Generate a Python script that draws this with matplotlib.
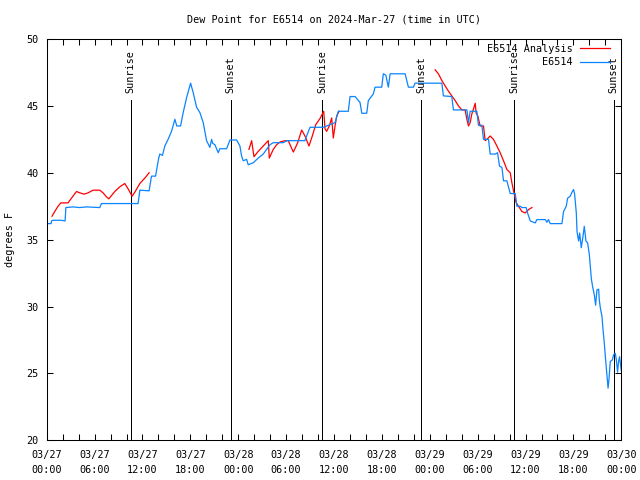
import matplotlib
matplotlib.use("Agg")
import matplotlib.pyplot as plt
from matplotlib.ticker import MultipleLocator, FixedLocator

# hours since 2024-03-27 00:00 UTC, dew point in degrees F
obs_hours = [
    0.00, 0.55, 0.60, 0.80, 1.85, 2.30, 2.40, 3.30, 4.10, 5.00, 6.65, 6.86,
    11.45, 11.67, 12.83, 13.13, 13.64, 13.80, 14.00, 14.17, 14.50, 14.80,
    15.21, 15.64, 16.06, 16.30, 16.77, 17.10, 17.52, 18.03, 18.35, 18.78,
    19.19, 19.61, 20.03, 20.45, 20.66, 20.80, 21.07, 21.49, 21.70, 22.54,
    22.96, 23.80, 24.21, 24.42, 24.62, 25.05, 25.25, 25.88, 26.50, 27.13,
    27.56, 27.97, 28.39, 29.64, 30.07, 32.36, 32.57, 32.99, 34.66, 35.08,
    35.50, 36.13, 36.54, 37.79, 38.01, 38.64, 39.26, 39.48, 40.10, 40.30,
    40.93, 41.14, 41.98, 42.18, 42.49, 42.81, 43.03, 44.91, 45.32, 45.95,
    46.16, 49.51, 49.71, 50.76, 50.96, 52.65, 52.85, 53.06, 53.90, 54.10,
    54.53, 54.73, 55.36, 55.57, 56.21, 56.49, 56.74, 57.04, 57.24, 57.66,
    58.08, 58.71, 58.92, 59.33, 59.55, 60.08, 60.25, 60.59, 61.21, 61.42,
    62.47, 62.68, 62.88, 63.09, 64.56, 64.76, 65.10, 65.27, 65.60, 65.82,
    66.02, 66.15, 66.36, 66.45, 66.65, 66.78, 66.98, 67.20, 67.36, 67.57,
    67.78, 67.99, 68.11, 68.24, 68.40, 68.61, 68.78, 68.95, 69.16, 69.24,
    69.37, 69.58, 69.71, 69.87, 70.00, 70.21, 70.34, 70.46, 70.62, 70.87,
    71.04, 71.25, 71.38, 71.53, 71.66, 71.78, 72.00,
]
obs_dewpt = [
    36.2, 36.2, 36.4, 36.45, 36.45, 36.4, 37.4, 37.45, 37.4, 37.45, 37.4, 37.7,
    37.7, 38.7, 38.65, 39.75, 39.75, 40.3, 41.0, 41.4, 41.3, 42.0,
    42.5, 43.1, 44.0, 43.5, 43.5, 44.5, 45.6, 46.7, 46.0, 44.9,
    44.5, 43.75, 42.4, 41.9, 42.5, 42.2, 42.1, 41.5, 41.8, 41.8,
    42.45, 42.45, 42.0, 41.25, 40.9, 41.0, 40.6, 40.75, 41.1, 41.4,
    41.75, 42.1, 42.25, 42.25, 42.4, 42.4, 42.75, 43.4, 43.4, 43.5,
    43.6, 43.75, 44.6, 44.6, 45.7, 45.7, 45.25, 44.45, 44.45, 45.4,
    45.9, 46.4, 46.4, 47.4, 47.3, 46.4, 47.4, 47.4, 46.4, 46.4,
    46.7, 46.7, 45.75, 45.7, 44.7, 44.7, 43.75, 44.6, 44.6, 43.55,
    43.55, 42.5, 42.5, 41.4, 41.4, 41.5, 40.5, 40.4, 39.4, 39.4,
    38.45, 38.45, 37.5, 37.5, 37.4, 37.4, 37.0, 36.4, 36.25, 36.5,
    36.5, 36.3, 36.5, 36.2, 36.2, 37.1, 37.5, 38.1, 38.25, 38.55,
    38.75, 38.4, 37.0, 35.6, 34.9, 35.5, 34.4, 35.25, 36.0, 34.9,
    34.75, 33.9, 33.0, 32.1, 31.5, 30.9, 30.1, 31.25, 31.3, 30.5,
    29.9, 29.25, 28.25, 27.25, 26.25, 24.75, 23.9, 24.6, 25.9, 26.0,
    26.4, 26.5, 26.0, 25.1, 25.9, 26.25, 25.2,
]

# analysis runs (three separate segments)
ana1_hours = [0.66, 1.00, 1.42, 1.76, 2.67, 3.10, 3.73, 4.14, 4.68, 5.18, 5.81,
              6.65, 7.06, 7.49, 7.78, 8.12, 8.53, 9.16, 9.78, 10.20, 10.70,
              11.04, 11.67, 12.29, 12.83]
ana1_dewpt = [36.75, 37.1, 37.5, 37.75, 37.75, 38.1, 38.6, 38.5, 38.4, 38.5, 38.7,
              38.7, 38.5, 38.2, 38.05, 38.3, 38.6, 38.95, 39.2, 38.8, 38.25,
              38.55, 39.2, 39.6, 40.0]
ana2_hours = [25.34, 25.68, 25.97, 26.50, 27.13, 27.76, 27.89, 28.39, 28.81,
              29.23, 29.86, 30.27, 30.90, 31.45, 31.95, 32.36, 32.86, 33.28,
              33.71, 34.24, 34.71, 34.87, 35.08, 35.41, 35.71, 35.91, 36.13,
              36.34, 36.63]
ana2_dewpt = [41.75, 42.4, 41.2, 41.6, 42.0, 42.4, 41.1, 41.75, 42.1,
              42.3, 42.4, 42.4, 41.55, 42.25, 43.2, 42.75, 42.0, 42.75,
              43.6, 44.05, 44.6, 43.3, 43.1, 43.5, 44.1, 42.6, 43.5,
              44.25, 44.6]
ana3_hours = [48.67, 49.08, 49.51, 49.92, 50.34, 50.76, 51.18, 51.59, 52.02,
              52.43, 52.65, 52.85, 53.06, 53.27, 53.47, 53.69, 53.81, 54.02,
              54.31, 54.73, 54.94, 55.15, 55.57, 55.98, 56.41, 56.82, 57.24,
              57.66, 58.08, 58.29, 58.58, 58.83, 59.12, 59.55, 59.96, 60.38,
              60.80]
ana3_dewpt = [47.7, 47.4, 46.9, 46.5, 46.1, 45.75, 45.4, 45.0, 44.7,
              44.7, 44.0, 43.5, 43.75, 44.4, 44.75, 45.2, 44.45, 44.25,
              43.5, 43.5, 42.4, 42.5, 42.75, 42.5, 42.0, 41.5, 40.9,
              40.25, 40.0, 39.25, 38.4, 37.75, 37.5, 37.1, 37.0, 37.25,
              37.4]

sun_hours = [10.53, 23.03, 34.54, 46.92, 58.60, 71.05]
sun_labels = ["Sunrise", "Sunset", "Sunrise", "Sunset", "Sunrise", "Sunset"]

tick_hours = list(range(0, 73, 6))
tick_labels = [
    "03/27\n00:00", "03/27\n06:00", "03/27\n12:00", "03/27\n18:00",
    "03/28\n00:00", "03/28\n06:00", "03/28\n12:00", "03/28\n18:00",
    "03/29\n00:00", "03/29\n06:00", "03/29\n12:00", "03/29\n18:00",
    "03/30\n00:00",
]

FONT = "DejaVu Sans Mono"
FS = 7.3
LW = 0.9
plt.rcParams["font.family"] = FONT
plt.rcParams["font.size"] = FS


def main():
    fig = plt.figure(figsize=(6.4, 4.8), dpi=100)
    ax = fig.add_axes([0.073, 0.0827, 0.8978, 0.836])

    # sunrise / sunset markers
    for h, lab in zip(sun_hours, sun_labels):
        ax.plot([h, h], [20, 45.47], color="black", lw=0.72, snap=True)
        ax.text(h, 46.0, lab, rotation=90, ha="center", va="bottom",
                fontsize=FS)

    ax.plot(ana1_hours, ana1_dewpt, color="#ff0000", lw=LW,
            label="E6514 Analysis")
    ax.plot(ana2_hours, ana2_dewpt, color="#ff0000", lw=LW)
    ax.plot(ana3_hours, ana3_dewpt, color="#ff0000", lw=LW)
    ax.plot(obs_hours, obs_dewpt, color="#0a84ff", lw=LW, label="E6514")

    ax.set_xlim(0, 72)
    ax.set_ylim(20, 50)
    ax.xaxis.set_major_locator(FixedLocator(tick_hours))
    ax.xaxis.set_minor_locator(MultipleLocator(2))
    ax.set_xticklabels(tick_labels, linespacing=1.6)
    ax.yaxis.set_major_locator(MultipleLocator(5))
    ax.tick_params(axis="both", which="both", direction="in", length=4,
                   width=0.75, top=True, right=True, labelsize=FS)
    ax.tick_params(axis="x", pad=7)
    ax.tick_params(axis="y", pad=6)
    for s in ax.spines.values():
        s.set_linewidth(0.75)

    ax.set_ylabel("degrees F", fontsize=FS, labelpad=8)
    ax.set_title("Dew Point for E6514 on 2024-Mar-27 (time in UTC)",
                 fontsize=FS, pad=12)

    ax.legend(loc="upper right", bbox_to_anchor=(0.980, 0.9875),
              frameon=False, markerfirst=False, handlelength=2.9,
              handletextpad=0.8, labelspacing=0.3, borderaxespad=0.0,
              borderpad=0.0, fontsize=FS)

    fig.savefig("out.png", dpi=100)


if __name__ == "__main__":
    main()
